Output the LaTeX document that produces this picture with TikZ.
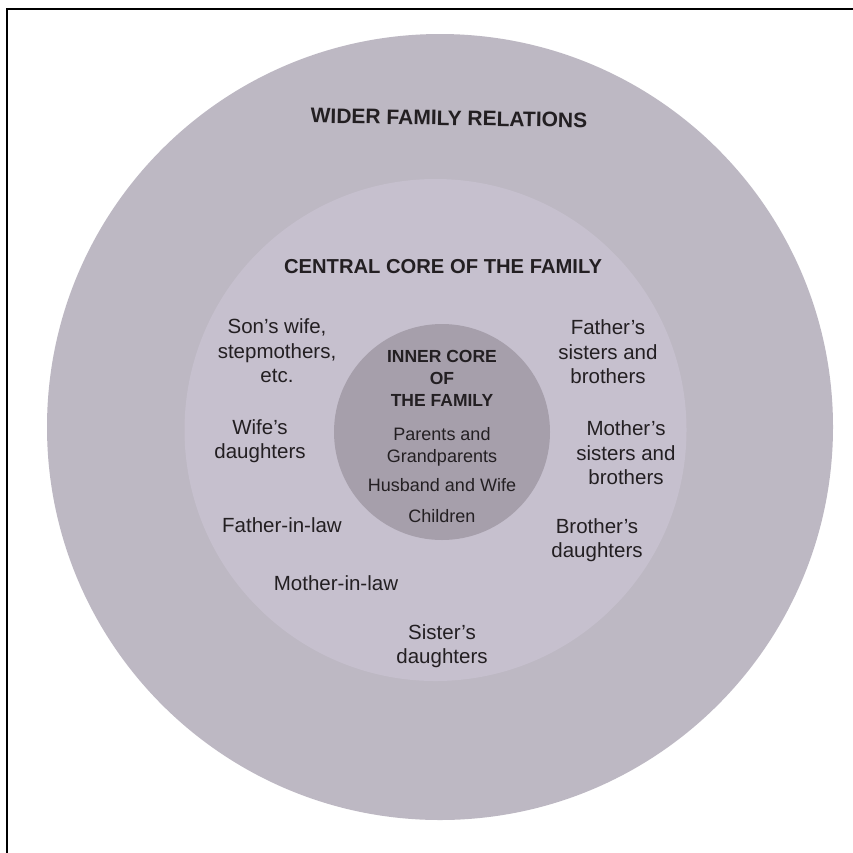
\documentclass[tikz,border=0pt]{standalone}
\usepackage{fontspec}
\setmainfont{Liberation Sans}
\definecolor{widerfill}{RGB}{189,184,195}
\definecolor{centralfill}{RGB}{198,192,206}
\definecolor{innerfill}{RGB}{166,159,171}
\definecolor{inkcol}{RGB}{35,31,34}
\begin{document}
\begin{tikzpicture}[x=1pt,y=-1pt,
  disc/.style={circle, draw=none, inner sep=0pt},
  heading/.style={text=inkcol, inner sep=0pt, font=\bfseries\fontsize{21}{25}\selectfont},
  ringlbl/.style={align=center, text=inkcol, inner sep=0pt, font=\fontsize{20.5}{24.5}\selectfont},
  corehead/.style={align=center, text=inkcol, inner sep=0pt, font=\bfseries\fontsize{17.5}{22}\selectfont},
  corelbl/.style={align=center, text=inkcol, inner sep=0pt, font=\fontsize{18}{22}\selectfont}]
\useasboundingbox (0,0) rectangle (853,852);
\fill[white] (0,0) rectangle (853,852);
% frame edges
\draw[line width=2.4pt, line cap=rect] (7,852) -- (7,9) -- (853,9);

% the three nested circles
\node[disc, fill=widerfill, minimum size=786pt] (widerdisc) at (440,427) {};
\node[disc, fill=centralfill, minimum size=502pt] (centraldisc) at (435.5,430) {};
\node[disc, fill=innerfill, minimum size=216pt] (innerdisc) at (442,432) {};

% headings
\node[heading, rotate=-1] (widerhead) at (449,118) {WIDER FAMILY RELATIONS};
\node[heading, font=\bfseries\fontsize{20.2}{24}\selectfont] (centralhead) at (443,267) {CENTRAL CORE OF THE FAMILY};
\node[corehead] (innerhead) at (442,378) {INNER CORE\\OF\\THE FAMILY};

% inner core members
\node[corelbl] (parents) at (442,447) {Parents and\\Grandparents};
\node[corelbl] (spouses) at (442,485) {Husband and Wife};
\node[corelbl] (children) at (442,516) {Children};

% central core, left side
\node[ringlbl] (sonswife) at (277,351) {Son’s wife,\\stepmothers,\\etc.};
\node[ringlbl] (wifedau) at (260,441) {Wife’s\\daughters};
\node[ringlbl] (fatherinlaw) at (282,525) {Father-in-law};
\node[ringlbl] (motherinlaw) at (336,583) {Mother-in-law};
\node[ringlbl] (sisterdau) at (442,646) {Sister’s\\daughters};

% central core, right side
\node[ringlbl] (fathersib) at (608,352) {Father’s\\sisters and\\brothers};
\node[ringlbl] (mothersib) at (626,453) {Mother’s\\sisters and\\brothers};
\node[ringlbl] (brotherdau) at (597,540) {Brother’s\\daughters};
\end{tikzpicture}
\end{document}
